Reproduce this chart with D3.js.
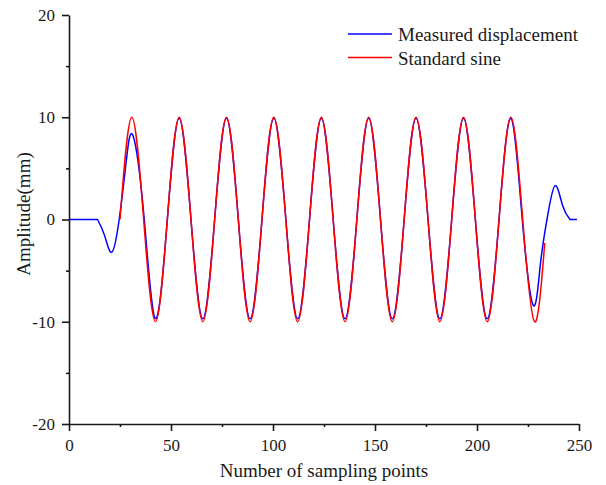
<!DOCTYPE html>
<html><head><meta charset="utf-8">
<script src="https://cdn.jsdelivr.net/npm/d3@7"></script>
<style>body{margin:0;background:#fff}svg{display:block}</style>
</head><body>
<svg id="c" width="606" height="485"></svg>
<script>
// ---- data ----
const xTicks = [0, 50, 100, 150, 200, 250];
const xMinorTicks = [25, 75, 125, 175, 225];
const yTicks = [-20, -10, 0, 10, 20];
const yMinorTicks = [-15, -5, 5, 15];
const seriesNames = ["Measured displacement", "Standard sine"];
const xLabel = "Number of sampling points";
const yLabel = "Amplitude(mm)";

// Standard sine: zero crossings, peaks and troughs
const sineX = [25.0, 30.8, 36.6, 42.4, 48.2, 54.0, 59.8, 65.6, 71.4, 77.2, 83.0, 88.8, 94.6, 100.4,
  106.3, 112.1, 117.9, 123.7, 129.5, 135.3, 141.1, 146.9, 152.7, 158.5, 164.3, 170.1, 176.0, 181.8,
  187.6, 193.4, 199.2, 205.0, 210.8, 216.6, 222.4, 228.2, 233.2];
const sineY = [0, 10, 0, -10, 0, 10, 0, -10, 0, 10, 0, -10, 0, 10,
  0, -10, 0, 10, 0, -10, 0, 10, 0, -10, 0, 10, 0, -10,
  0, 10, 0, -10, 0, 10, 0, -10, -2.3];

// Measured displacement
const measX = [0, 14, 17.5, 21, 24.6, 28, 31.4, 36.9, 42.4, 48.2, 54.0, 59.8, 65.6, 71.4,
  77.2, 83.0, 88.8, 94.6, 100.4, 106.3, 112.1, 117.9, 123.7, 129.5, 135.3, 141.1, 146.9, 152.7,
  158.5, 164.3, 170.1, 176.0, 181.8, 187.6, 193.4, 199.2, 205.0, 210.8, 216.6, 222.2, 227.6, 231.0,
  234.3, 238.2, 241.9, 245.6, 249.0];
const measY = [0, 0, -1.6, -3.2, 0, 5.6, 8.2, 0, -9.7, 0, 9.9, 0, -9.7, 0,
  9.9, 0, -9.7, 0, 9.9, 0, -9.7, 0, 9.9, 0, -9.7, 0, 9.9, 0,
  -9.7, 0, 9.9, 0, -9.7, 0, 9.9, 0, -9.7, 0, 9.9, 0, -8.4, -4.5,
  0, 3.3, 1.4, 0, 0];

const colors = ["#0000ff", "#ff0000"];

// ---- drawing ----
const svg = d3.select("#c");
const font = "'Liberation Serif', 'Times New Roman', serif";
const ink = "#1a1a1a";
const fmt = d => String(d);

const x = d3.scaleLinear().domain([0, 250]).range([69, 579]);
const y = d3.scaleLinear().domain([-20, 20]).range([424, 15]);

// minor ticks
svg.append("g").attr("transform", `translate(0,${y(-20)})`)
  .call(d3.axisBottom(x).tickValues(xMinorTicks).tickSize(3).tickFormat(""))
  .call(g => { g.select(".domain").remove(); g.selectAll("line").attr("stroke", ink).attr("stroke-width", 1.6); });
svg.append("g").attr("transform", `translate(${x(0)},0)`)
  .call(d3.axisLeft(y).tickValues(yMinorTicks).tickSize(3).tickFormat(""))
  .call(g => { g.select(".domain").remove(); g.selectAll("line").attr("stroke", ink).attr("stroke-width", 1.6); });

// major axes
const xa = svg.append("g").attr("transform", `translate(0,${y(-20)})`)
  .call(d3.axisBottom(x).tickValues(xTicks).tickSize(7).tickSizeOuter(0).tickPadding(8).tickFormat(fmt));
const ya = svg.append("g").attr("transform", `translate(${x(0)},0)`)
  .call(d3.axisLeft(y).tickValues(yTicks).tickSize(7).tickSizeOuter(0).tickPadding(7).tickFormat(fmt));
[xa, ya].forEach(g => {
  g.select(".domain").attr("stroke", ink).attr("stroke-width", 1.6);
  g.selectAll(".tick line").attr("stroke", ink).attr("stroke-width", 1.6);
  g.selectAll(".tick text").attr("fill", ink).style("font-family", font).style("font-size", "17px");
});

// lines: flat lead-in / tail are straight, the oscillating part is a natural spline
const pts = (xs, ys) => xs.map((v, i) => [v, ys[i]]);
const measPts = pts(measX, measY);
const iStart = measX.indexOf(14), iEnd = measX.indexOf(245.6);
const curved = d3.line().x(d => x(d[0])).y(d => y(d[1])).curve(d3.curveNatural);
const straight = d3.line().x(d => x(d[0])).y(d => y(d[1]));
const measPath = straight(measPts.slice(0, iStart + 1)) +
  curved(measPts.slice(iStart, iEnd + 1)).replace(/^M/, "L") +
  straight(measPts.slice(iEnd)).replace(/^M/, "L");
svg.append("path").attr("d", measPath)
  .attr("fill", "none").attr("stroke", colors[0]).attr("stroke-width", 1.5).attr("stroke-linejoin", "round");
svg.append("path").datum(pts(sineX, sineY)).attr("d", curved)
  .attr("fill", "none").attr("stroke", colors[1]).attr("stroke-width", 1.5);

// axis titles
svg.append("text").attr("x", 324).attr("y", 477).attr("text-anchor", "middle")
  .style("font-family", font).style("font-size", "19px").attr("fill", ink).text(xLabel);
svg.append("text").attr("transform", "translate(30,214) rotate(-90)").attr("text-anchor", "middle")
  .style("font-family", font).style("font-size", "19px").attr("fill", ink).text(yLabel);

// legend
const lg = svg.append("g");
seriesNames.forEach((n, i) => {
  const yy = 34 + i * 23.5;
  lg.append("line").attr("x1", 348).attr("x2", 392).attr("y1", yy).attr("y2", yy)
    .attr("stroke", colors[i]).attr("stroke-width", 1.5);
  lg.append("text").attr("x", 398).attr("y", yy + 7).style("font-family", font)
    .style("font-size", "19px").attr("fill", ink).text(n);
});
</script>
</body></html>
